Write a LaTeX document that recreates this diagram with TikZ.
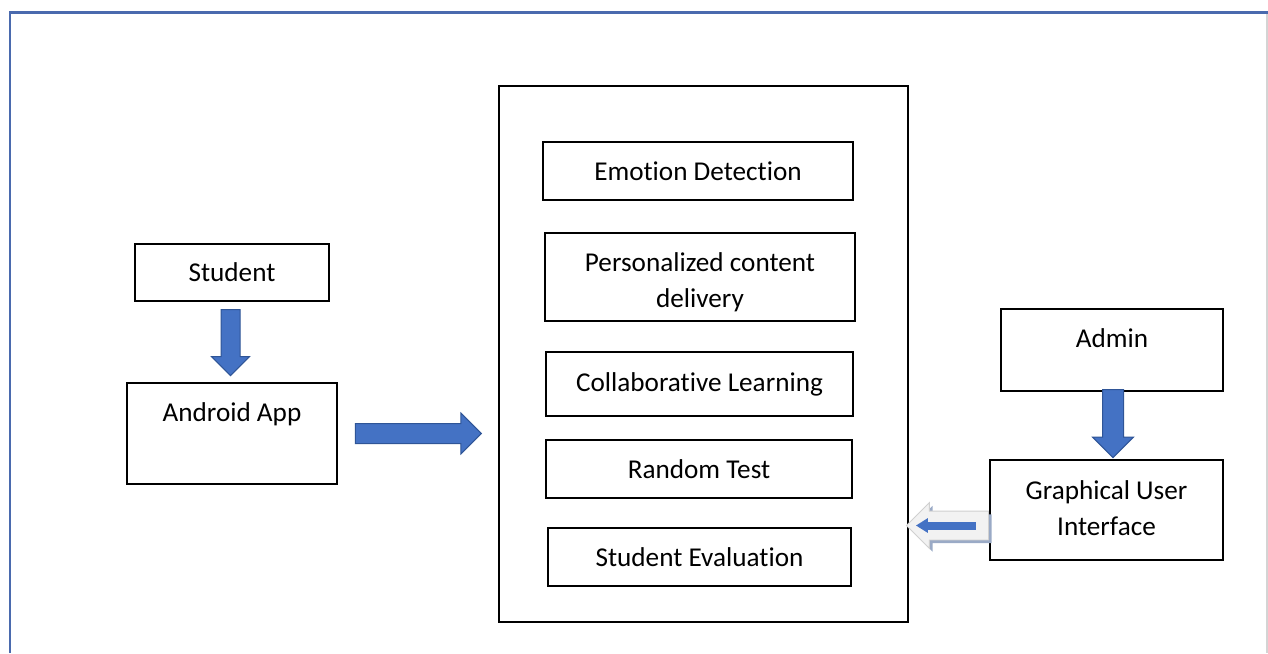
\documentclass[tikz,border=0pt]{standalone}
\usepackage{fontspec}
\setmainfont{Carlito}[Ligatures=NoCommon]
\usetikzlibrary{calc,shapes.arrows,arrows.meta,shadows}
\definecolor{frameblue}{HTML}{4A6AAE}
\definecolor{edgegray}{HTML}{D4D4D4}
\definecolor{arrowfill}{HTML}{4472C4}
\definecolor{arrowline}{HTML}{2F5597}
\definecolor{hollowfill}{HTML}{F2F2F2}
\definecolor{hollowline}{HTML}{D0D0D0}
\definecolor{shadowblue}{HTML}{9AAAC6}

\begin{document}
\begin{tikzpicture}[
  x=0.5pt, y=-0.5pt,
  font=\fontsize{13.6}{18}\selectfont,
  box/.style={draw, line width=0.7pt, inner sep=0pt, align=center},
  module/.style={box, minimum height=29pt},
  blockarrow/.style={single arrow, draw=arrowline, line width=0.5pt, fill=arrowfill, inner sep=0pt, anchor=tip},
  backarrow/.style={single arrow, draw=hollowline, line width=0.4pt, fill=hollowfill, inner sep=0pt, anchor=tip,
    drop shadow={shadow xshift=1.6pt, shadow yshift=-1.6pt, fill=shadowblue, opacity=1}}
]
\useasboundingbox (0,0) rectangle (1268,653);
\draw[frameblue, line width=1.3pt] (10,653) -- (10,12.5) -- (1268,12.5);
\draw[edgegray, line width=0.6pt] (1267,14) -- (1267,653);

% system modules
\node[box, line width=0.9pt, minimum width=204.5pt, minimum height=268pt] (core) at (703.5,354) {};
\node[module, minimum width=155pt] (emotion) at (698,171) {Emotion Detection};
\node[module, minimum width=155pt, minimum height=44pt, text height=33pt] (content) at (700,277) {Personalized content\\delivery};
\node[module, minimum width=153.5pt, minimum height=32pt] (collab) at (699.5,384) {Collaborative Learning};
\node[module, minimum width=153pt] (randtest) at (699,469) {Random Test};
\node[module, minimum width=151.5pt] (evaluation) at (699.5,557) {Student Evaluation};

% users
\node[box, minimum width=97pt, minimum height=28.5pt] (student) at (232,272.5) {Student};
\node[box, minimum width=105pt, minimum height=50.5pt, text height=10pt, text depth=22.5pt] (android) at (232,433.5) {Android App};
\node[box, minimum width=111pt, minimum height=41pt, text height=10pt, text depth=13pt] (admin) at (1112,350) {Admin};
\node[box, minimum width=116.5pt, minimum height=50pt, text height=25.5pt] (gui) at (1106.5,510) {Graphical User\\Interface};

% block arrows
\node[blockarrow, shape border rotate=270, minimum height=33pt, inner xsep=4.5pt, single arrow head extend=4.75pt, yshift=3pt, xshift=-0.75pt]
  (sa) at (android.north) {};
\node[blockarrow, minimum height=63pt, inner ysep=4.75pt, single arrow head extend=5.25pt, xshift=-8pt]
  (ac) at (android.east -| core.west) {};
\node[blockarrow, shape border rotate=270, minimum height=34pt, inner xsep=5pt, single arrow head extend=5pt, yshift=0.5pt, xshift=3.25pt]
  (ag) at (gui.north) {};
\node[backarrow, shape border rotate=180, minimum height=41pt, inner ysep=7pt, single arrow head extend=4.25pt, yshift=-7.75pt, xshift=-1.5pt]
  (gc) at (gui.west -| core.east) {};
\draw[arrowfill, line width=4pt, -{Triangle[width=7pt,length=6pt]}]
  ([xshift=35pt]gc.tip) -- ([xshift=5pt]gc.tip);
\end{tikzpicture}
\end{document}
